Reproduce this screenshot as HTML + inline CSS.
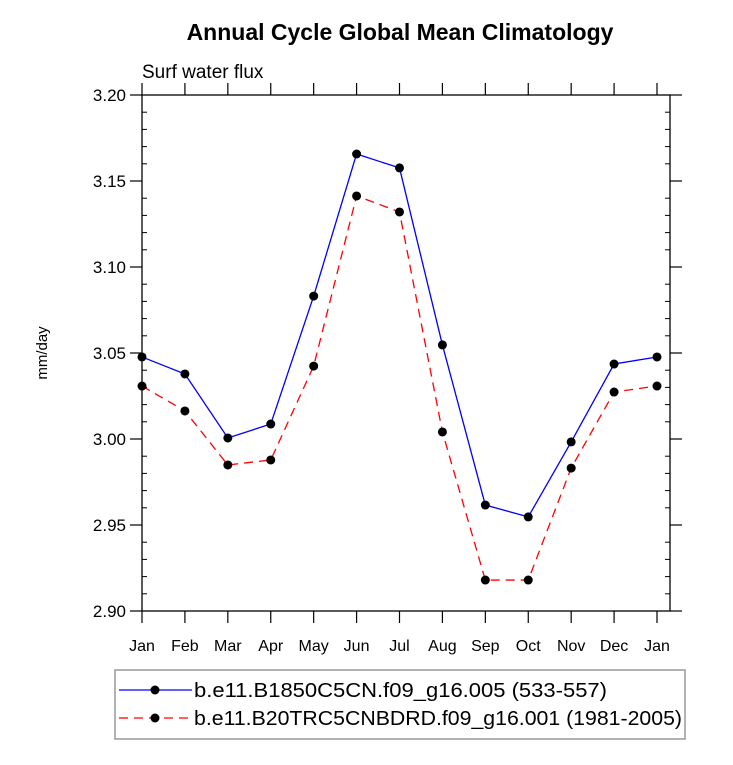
<!DOCTYPE html>
<html><head><meta charset="utf-8"><style>
body{margin:0;background:#fff;}
svg text{font-family:"Liberation Sans",sans-serif;}
</style></head><body>
<svg id="c" width="733" height="760" xmlns="http://www.w3.org/2000/svg">
<text x="400" y="40" font-size="23" font-weight="bold" text-anchor="middle">Annual Cycle Global Mean Climatology</text>
<text x="142" y="78" font-size="19">Surf water flux</text>
<text transform="translate(47,353) rotate(-90)" font-size="15" text-anchor="middle">mm/day</text>
<g id="axes"></g>
<g id="marks"></g>
<rect x="115" y="670" width="570" height="69" fill="none" stroke="#999" stroke-width="1.5"/>
<line x1="119" y1="690" x2="192" y2="690" stroke="#0000ff" stroke-width="1.3"/>
<circle cx="155" cy="690" r="4.5" fill="#000"/>
<text x="194" y="697" font-size="20" textLength="413" lengthAdjust="spacingAndGlyphs">b.e11.B1850C5CN.f09_g16.005 (533-557)</text>
<line x1="119" y1="718" x2="192" y2="718" stroke="#ff0000" stroke-width="1.3" stroke-dasharray="9,6"/>
<circle cx="155" cy="718" r="4.5" fill="#000"/>
<text x="194" y="725" font-size="20" textLength="488" lengthAdjust="spacingAndGlyphs">b.e11.B20TRC5CNBDRD.f09_g16.001 (1981-2005)</text>
</svg>
<script>
const months=["Jan","Feb","Mar","Apr","May","Jun","Jul","Aug","Sep","Oct","Nov","Dec","Jan"];
const blueVals=[3.0477,3.0378,3.0006,3.0087,3.0831,3.1657,3.1576,3.0547,2.9616,2.9547,2.9983,3.0436,3.0477];
const redVals=[3.0308,3.0163,2.9849,2.9878,3.0424,3.1413,3.1320,3.0041,2.9180,2.9180,2.9831,3.0273,3.0308];
const yTicks=["2.90","2.95","3.00","3.05","3.10","3.15","3.20"];
const NS="http://www.w3.org/2000/svg";
const L=142,R=670,T=95,B=611,X0=142,X1=657,YMIN=2.9,YMAX=3.2;
const xs=i=>X0+i*(X1-X0)/(months.length-1);
const ys=v=>B-(v-YMIN)/(YMAX-YMIN)*(B-T);
function mk(tag,attrs,parent){const e=document.createElementNS(NS,tag);for(const k in attrs)e.setAttribute(k,attrs[k]);parent.appendChild(e);return e;}
const ax=document.getElementById('axes'),mg=document.getElementById('marks');
const fr=mk('rect',{x:L,y:T,width:R-L,height:B-T,fill:'none',stroke:'#000','stroke-width':1.3},ax);


for(let k=0;k<=30;k++){
  const v=YMIN+k*0.01,y=ys(v),major=k%5===0;
  const len=major?12:5;
  if(major){
    mk('line',{x1:L-len,y1:y,x2:L,y2:y,stroke:'#000','stroke-width':1.2},ax);
    mk('line',{x1:R,y1:y,x2:R+len,y2:y,stroke:'#000','stroke-width':1.2},ax);
  }else{
    mk('line',{x1:L,y1:y,x2:L+len,y2:y,stroke:'#000','stroke-width':1},ax);
    mk('line',{x1:R-len,y1:y,x2:R,y2:y,stroke:'#000','stroke-width':1},ax);
  }
}
yTicks.forEach(t=>{
  const e=mk('text',{x:L-16,y:ys(parseFloat(t))+6,'font-size':17,'text-anchor':'end'},ax);
  e.textContent=t;
  
  
});
months.forEach((m,i)=>{
  const x=xs(i);
  mk('line',{x1:x,y1:B,x2:x,y2:B+12,stroke:'#000','stroke-width':1.2},ax);
  mk('line',{x1:x,y1:T-12,x2:x,y2:T,stroke:'#000','stroke-width':1.2},ax);
  const e=mk('text',{x:x,y:B+40,'font-size':16,'text-anchor':'middle'},ax);
  e.textContent=m;
  
  
});
function series(vals,color,dash,name){
  const p=mk('polyline',{points:vals.map((v,i)=>xs(i)+','+ys(v)).join(' '),fill:'none',stroke:color,'stroke-width':1.3,'stroke-dasharray':dash},mg);
  
  
  vals.forEach((v,i)=>{
    const c=mk('circle',{cx:xs(i),cy:ys(v),r:4.5,fill:'#000'},mg);
    
    
  });
}
series(blueVals,'#0000ff','none','blue-series');
series(redVals,'#ff0000','9,6','red-series');
</script>
</body></html>
